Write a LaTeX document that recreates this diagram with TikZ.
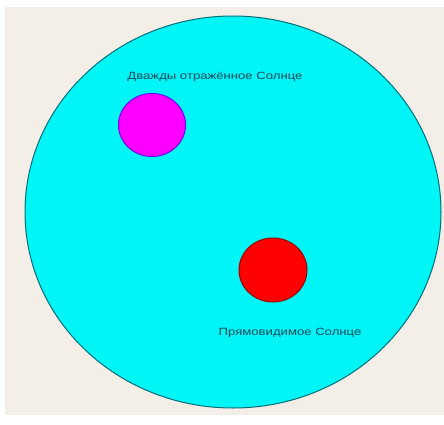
\documentclass[tikz,border=0pt]{standalone}
\usepackage{fontspec}
\setmainfont{Liberation Sans}
\usetikzlibrary{shapes.geometric}

\definecolor{paper}{RGB}{243,239,232}
\definecolor{sky}{RGB}{0,246,246}
\definecolor{rim}{RGB}{0,110,120}
\definecolor{pinksun}{RGB}{255,0,255}
\definecolor{redsun}{RGB}{255,0,0}
\definecolor{labeltext}{RGB}{10,70,90}

\tikzset{
  sun/.style={ellipse,draw,line width=1pt,inner sep=0pt},
  caption/.style={font=\fontsize{10.5}{12}\selectfont,text=labeltext,inner sep=0pt}
}

\begin{document}
\begin{tikzpicture}[x=1pt,y=-1pt]
\useasboundingbox (0,0) rectangle (444,425);
\fill[white] (0,0) rectangle (444,425);
\fill[paper] (5,7) rectangle (444,415);

\node[sun,fill=sky,draw=rim,minimum width=416pt,minimum height=392pt] (sky) at (233,212) {};

\node[sun,fill=pinksun,draw=blue!55!pinksun,minimum width=67pt,minimum height=63pt] (twice) at (152,125) {};
\node[sun,fill=redsun,draw=redsun!60!black,minimum width=68pt,minimum height=64pt] (direct) at (273,270) {};

\node[caption] (twicetext) at (215,77) {\scalebox{1.25}[1]{Дважды отражённое Солнце}};
\node[caption] (directtext) at (290,333) {\scalebox{1.25}[1]{Прямовидимое Солнце}};
\end{tikzpicture}
\end{document}
